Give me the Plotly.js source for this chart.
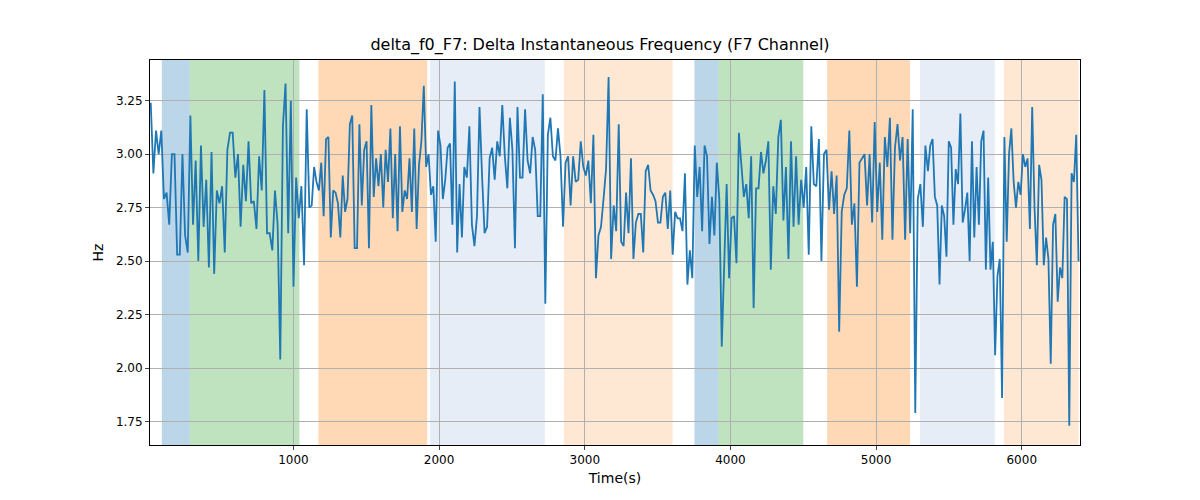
<!DOCTYPE html>
<html><head><script src="https://cdn.plot.ly/plotly-3.0.1.min.js"></script></head>
<body style="margin:0"><div id="c" style="width:1200px;height:500px"></div>
<script>
const seg1=[3.24,2.91,3.11,3.0,3.11,2.79,2.82,2.67,3.0,3.0,2.53,2.53,3.0,2.62,2.54,3.18,2.67,2.97,2.5,3.04,2.66,2.88,2.47,3.01,2.44,2.83,2.77,2.85,2.54,3.02,3.1,3.1,2.89,3.0,2.66,2.95,2.78,3.06,2.77,2.78,2.65,2.99,2.83,3.30,2.63,2.63,2.55,2.83,2.67,2.04,3.13,3.33,2.63,3.25,2.38,2.89,2.70,2.85,2.48,3.21,2.75];
const seg2=[2.76,2.94,2.87,2.83,2.96,2.71,3.07,3.08,2.61,2.83,2.82,2.77,2.61,2.90,2.73,2.79,3.14,3.18,2.56,2.56,3.14,2.76,3.02,3.06,2.56,3.23,2.80,2.98,2.85,3.0,2.75,3.02,2.87,3.12,2.70,3.0,2.64,3.13,2.73,2.83,2.79,2.98,2.73,3.12,2.65,2.95,3.06,3.32,2.94,3.0,2.81,2.85,2.59,3.11,3.04,2.79,2.88,3.03,3.05,2.67,3.34,2.54,2.86,2.61,2.94];
const seg3=[2.89,3.13,2.67,2.57,2.71,3.22,2.90,2.63,2.66,2.98,3.03,2.88,3.06,2.99,3.23,2.99,2.84,3.17,3.02,2.56,3.22,2.89,2.89,3.21,2.97,2.91,3.08,3.02,2.71,2.71,3.28,2.30,3.09,3.17,2.99,2.97,3.12,2.99,2.66,2.96,2.99,2.76,2.99,2.87,2.88,3.06,2.94,2.90,2.97,2.77,3.09,2.42,2.62,2.66,2.79,2.93,3.36,2.51,2.76,2.64,3.14];
const seg4=[2.59,2.57,2.82,2.63,2.98,2.51,2.68,2.72,2.72,2.54,2.92,2.95,2.83,2.81,2.78,2.68,2.68,2.80,2.82,2.65,2.83,2.53,2.73,2.70,2.70,2.64,2.91,2.39,2.55,2.42,3.04,2.80,2.94,2.64,3.04,2.99,2.58,2.80,2.62,2.96,2.79,2.10,2.50,2.86,2.42,2.70,2.71,2.49,3.10,2.97,2.80,2.86,2.70,2.99,2.28,2.84,2.84,3.01,2.91,2.97,3.06,2.46,2.85];
const seg5=[2.72,3.08,3.16,2.69,2.94,2.51,3.06,2.66,2.99,2.67,2.88,2.75,2.94,2.53,3.13,2.86,2.85,3.07,2.50,3.0,3.02,2.74,2.92,2.72,2.90,2.17,2.73,2.81,2.84,3.11,2.67,2.77,2.38,2.96,2.98,3.0,2.76,3.0,2.68,3.15,2.73,2.96,2.60,3.08,2.94,3.17,2.60,3.03,3.14,2.97,3.08,2.60,3.07,2.63,3.21,1.79,2.79,2.86,2.66,3.04,2.92];
const seg6=[3.04,3.07,2.80,2.76,2.39,2.76,2.71,2.52,3.06,3.03,2.67,2.93,2.86,3.19,2.68,2.74,2.82,2.50,3.06,2.61,2.94,2.67,3.06,3.11,2.46,2.89,2.46,2.59,2.06,2.43,2.51,1.86,3.08,2.59,3.0,3.12,2.87,2.75,2.87,2.81,3.0,2.94,2.98,2.65,3.22,2.75,2.48,2.95,2.88,2.48,2.61,2.51,2.02,2.67,2.72,2.31,2.47,2.42,2.80,2.79,1.73,2.91,2.87,3.09,2.50];
const segBounds=[20,1109,2173,3233,4294,5356,6390];
const spans=[[96,288,'rgba(31,119,180,0.3)'],[288,1041,'rgba(44,160,44,0.3)'],[1171,1918,'rgba(255,127,14,0.3)'],[1938,2726,'rgba(173,196,230,0.3)'],[2856,3603,'rgba(255,180,110,0.3)'],[3753,3918,'rgba(31,119,180,0.3)'],[3918,4500,'rgba(44,160,44,0.3)'],[4664,5233,'rgba(255,127,14,0.3)'],[5301,5815,'rgba(173,196,230,0.3)'],[5877,6390,'rgba(255,180,110,0.3)']];
const segs=[seg1,seg2,seg3,seg4,seg5,seg6];
let xs=[],ys=[];
segs.forEach((s,k)=>{const a=segBounds[k],b=segBounds[k+1];const n=s.length;
 s.forEach((v,i)=>{xs.push(k===0? a+(b-a)*i/(n-1) : a+(b-a)*(i+1)/n);ys.push(v);});});
const shapes=spans.map(s=>({type:'rect',xref:'x',yref:'paper',x0:s[0],x1:s[1],y0:0,y1:1,fillcolor:s[2],line:{width:0},layer:'below'}));
Plotly.newPlot('c',[{x:xs,y:ys,type:'scatter',mode:'lines',line:{color:'#1f77b4',width:1.8}}],{
 width:1200,height:500,margin:{l:150,r:120,t:60,b:55},plot_bgcolor:'rgba(0,0,0,0)',paper_bgcolor:'white',
 font:{family:'DejaVu Sans',size:12,color:'black'},showlegend:false,shapes:shapes,
 title:{text:'delta_f0_F7: Delta Instantaneous Frequency (F7 Channel)',x:0.5,xanchor:'center',y:0.9,yanchor:'bottom',font:{size:16}},
 xaxis:{range:[15,6400],tickvals:[1000,2000,3000,4000,5000,6000],showgrid:true,gridcolor:'#b0b0b0',zeroline:false,showline:true,mirror:true,linecolor:'black',ticks:'outside',ticklen:4,title:{text:'Time(s)',standoff:6}},
 yaxis:{range:[1.64,3.44],tickvals:[1.75,2,2.25,2.5,2.75,3,3.25],ticktext:['1.75','2.00','2.25','2.50','2.75','3.00','3.25'],showgrid:true,gridcolor:'#b0b0b0',zeroline:false,showline:true,mirror:true,linecolor:'black',ticks:'outside',ticklen:4,title:{text:'Hz',standoff:8}}
},{displayModeBar:false});
</script></body></html>
